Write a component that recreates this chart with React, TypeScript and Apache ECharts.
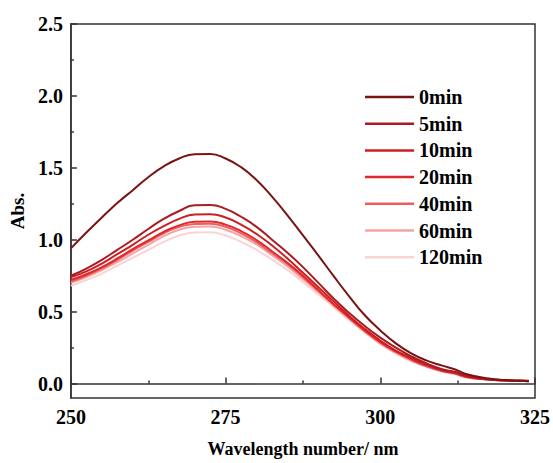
import React, { useEffect, useRef } from 'react';
import * as echarts from 'echarts';

const wavelengths = [
  250, 252.5, 255, 257.5, 260, 262.5, 265, 267.5, 270, 272.5, 275, 277.5, 280, 282.5, 285, 287.5,
  290, 292.5, 295, 297.5, 300, 302.5, 305, 307.5, 310, 312, 314, 317.5, 320, 322.5, 324,
];

const seriesNames = ['0min', '5min', '10min', '20min', '40min', '60min', '120min'];

const abs0min = [
  0.94, 1.05, 1.155, 1.255, 1.345, 1.435, 1.51, 1.565, 1.595, 1.597, 1.565, 1.505, 1.415, 1.3, 1.17, 1.03,
  0.89, 0.745, 0.605, 0.475, 0.37, 0.28, 0.21, 0.16, 0.125, 0.1, 0.065, 0.035, 0.025, 0.02, 0.015,
];
const abs5min = [
  0.75, 0.8, 0.86, 0.93, 1.0, 1.075, 1.145, 1.2, 1.24, 1.242, 1.215, 1.16, 1.09, 1.0, 0.91, 0.81,
  0.7, 0.59, 0.49, 0.4, 0.32, 0.25, 0.19, 0.14, 0.1, 0.082, 0.055, 0.03, 0.025, 0.02, 0.02,
];
const abs10min = [
  0.74, 0.78, 0.835, 0.9, 0.965, 1.035, 1.095, 1.145, 1.175, 1.177, 1.155, 1.105, 1.04, 0.96, 0.87, 0.77,
  0.67, 0.57, 0.47, 0.38, 0.3, 0.23, 0.18, 0.13, 0.095, 0.078, 0.05, 0.028, 0.022, 0.02, 0.018,
];
const abs20min = [
  0.72, 0.76, 0.81, 0.87, 0.935, 0.995, 1.055, 1.1, 1.125, 1.127, 1.105, 1.06, 0.998, 0.92, 0.84, 0.75,
  0.65, 0.55, 0.46, 0.37, 0.29, 0.225, 0.17, 0.125, 0.09, 0.073, 0.047, 0.028, 0.022, 0.02, 0.018,
];
const abs40min = [
  0.71, 0.75, 0.8, 0.86, 0.925, 0.985, 1.045, 1.09, 1.11, 1.112, 1.09, 1.045, 0.982, 0.906, 0.83, 0.74,
  0.645, 0.55, 0.455, 0.365, 0.285, 0.22, 0.165, 0.12, 0.088, 0.07, 0.045, 0.028, 0.022, 0.02, 0.018,
];
const abs60min = [
  0.7, 0.74, 0.79, 0.845, 0.905, 0.965, 1.025, 1.07, 1.09, 1.092, 1.07, 1.025, 0.967, 0.892, 0.815, 0.725,
  0.635, 0.54, 0.45, 0.36, 0.28, 0.215, 0.16, 0.118, 0.085, 0.068, 0.044, 0.028, 0.022, 0.02, 0.018,
];
const abs120min = [
  0.68, 0.72, 0.765, 0.82, 0.875, 0.93, 0.985, 1.03, 1.05, 1.052, 1.03, 0.985, 0.93, 0.862, 0.79, 0.705,
  0.62, 0.53, 0.44, 0.355, 0.275, 0.21, 0.155, 0.115, 0.082, 0.066, 0.042, 0.028, 0.022, 0.02, 0.018,
];

const allSeries = [abs0min, abs5min, abs10min, abs20min, abs40min, abs60min, abs120min];
const colors = ['#7a1414', '#a81c22', '#cc1f22', '#e2282a', '#ea6060', '#f2a6a6', '#f9d4d4'];

const yLabelValues = [0, 0.5, 1.0, 1.5, 2.0, 2.5];
const yMinorValues = [0.25, 0.75, 1.25, 1.75, 2.25];

export default function App() {
  const ref = useRef<HTMLDivElement>(null);

  useEffect(() => {
    document.body.style.margin = '0';
    const chart = echarts.init(ref.current!, null, { renderer: 'svg' });
    const font = "'Liberation Serif', 'Times New Roman', serif";
    const axisColor = '#333';
    const lineStyle = { color: axisColor, width: 1.5 };

    chart.setOption({
      animation: false,
      grid: {
        left: 69,
        right: 17,
        top: 24,
        bottom: 63,
        show: true,
        borderColor: axisColor,
        borderWidth: 1.5,
      },
      legend: {
        orient: 'vertical',
        left: 365,
        top: 87,
        padding: 0,
        icon: 'rect',
        itemWidth: 49,
        itemHeight: 2.5,
        itemGap: 6.7,
        data: seriesNames,
        textStyle: {
          fontFamily: font,
          fontWeight: 'bold',
          fontSize: 20,
          lineHeight: 20,
          color: '#000',
        },
      },
      xAxis: {
        type: 'value',
        min: 250,
        max: 325,
        interval: 25,
        name: 'Wavelength number/ nm',
        nameLocation: 'middle',
        nameGap: 42,
        nameTextStyle: { fontFamily: font, fontWeight: 'bold', fontSize: 18, color: '#000' },
        axisLine: { show: true, lineStyle },
        axisTick: { show: true, inside: true, length: 6, lineStyle },
        minorTick: { show: true, splitNumber: 2, length: 3, lineStyle },
        axisLabel: { fontFamily: font, fontWeight: 'bold', fontSize: 20, color: '#000', margin: 9 },
        splitLine: { show: false },
        minorSplitLine: { show: false },
      },
      yAxis: [
        {
          type: 'value',
          min: -0.1,
          max: 2.5,
          name: 'Abs.',
          nameLocation: 'middle',
          nameGap: 36,
          nameTextStyle: { fontFamily: font, fontWeight: 'bold', fontSize: 19, color: '#000' },
          axisLine: { show: true, lineStyle },
          axisTick: { show: true, inside: true, length: 6, lineStyle, customValues: yLabelValues },
          axisLabel: {
            fontFamily: font,
            fontWeight: 'bold',
            fontSize: 20,
            color: '#000',
            margin: 8,
            customValues: yLabelValues,
            formatter: (v: number) => v.toFixed(1),
          },
          splitLine: { show: false },
        },
        {
          type: 'value',
          min: -0.1,
          max: 2.5,
          position: 'left',
          offset: 0,
          axisLine: { show: false },
          axisTick: { show: true, inside: true, length: 3, lineStyle, customValues: yMinorValues },
          axisLabel: { show: false },
          splitLine: { show: false },
        },
      ],
      series: seriesNames.map((name, k) => ({
        name,
        type: 'line',
        xAxisIndex: 0,
        yAxisIndex: 0,
        smooth: true,
        symbol: 'none',
        z: 10 - k,
        data: wavelengths.map((w, i) => [w, allSeries[k][i]]),
        lineStyle: { color: colors[k], width: 2 },
        itemStyle: { color: colors[k] },
      })),
    });

    return () => chart.dispose();
  }, []);

  return <div ref={ref} style={{ width: 553, height: 463 }} />;
}
